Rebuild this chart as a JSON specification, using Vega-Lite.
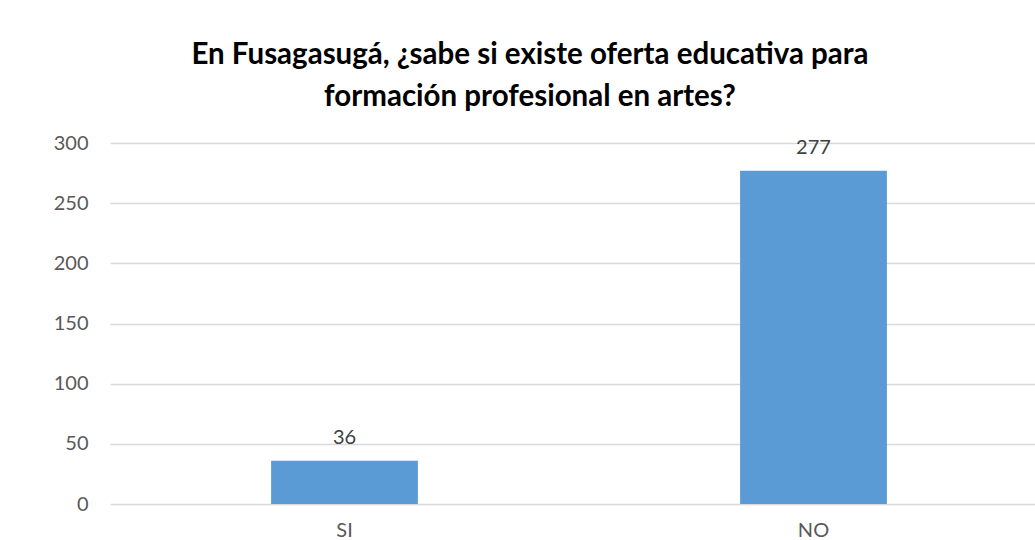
{
  "$schema": "https://vega.github.io/schema/vega-lite/v6.json",
  "autosize": {"type": "none"},
  "width": 938,
  "height": 361,
  "padding": {"left": 110, "top": 143, "right": 0, "bottom": 36},
  "background": "white",
  "title": {
    "text": ["En Fusagasugá, ¿sabe si existe oferta educativa para", "formación profesional en artes?"],
    "font": "Lato",
    "fontSize": 29.5,
    "fontWeight": "bold",
    "color": "#000000",
    "anchor": "middle",
    "lineHeight": 42,
    "offset": 21,
    "dx": -49
  },
  "data": {
    "values": [
      {"respuesta": "SI", "cantidad": 36},
      {"respuesta": "NO", "cantidad": 277}
    ]
  },
  "encoding": {
    "x": {
      "field": "respuesta",
      "type": "nominal",
      "sort": null,
      "scale": {"paddingInner": 0.687, "paddingOuter": 0.3435},
      "axis": {
        "title": null,
        "domain": false,
        "ticks": false,
        "labelAngle": 0,
        "labelFont": "Lato",
        "labelFontSize": 20,
        "labelColor": "#595959",
        "labelPadding": 16,
        "grid": false
      }
    },
    "y": {
      "field": "cantidad",
      "type": "quantitative",
      "scale": {"domain": [0, 300], "nice": false},
      "axis": {
        "title": null,
        "values": [0, 50, 100, 150, 200, 250, 300],
        "domain": false,
        "ticks": false,
        "labelFont": "Lato",
        "labelFontSize": 20,
        "labelColor": "#595959",
        "labelPadding": 22,
        "gridColor": "#d9d9d9",
        "gridWidth": 1.5
      }
    }
  },
  "layer": [
    {"mark": {"type": "bar", "color": "#5b9bd5"}},
    {
      "mark": {"type": "text", "baseline": "bottom", "dy": -13, "font": "Lato", "fontSize": 20, "color": "#404040"},
      "encoding": {"text": {"field": "cantidad", "type": "quantitative"}}
    }
  ],
  "config": {"view": {"stroke": null}}
}
